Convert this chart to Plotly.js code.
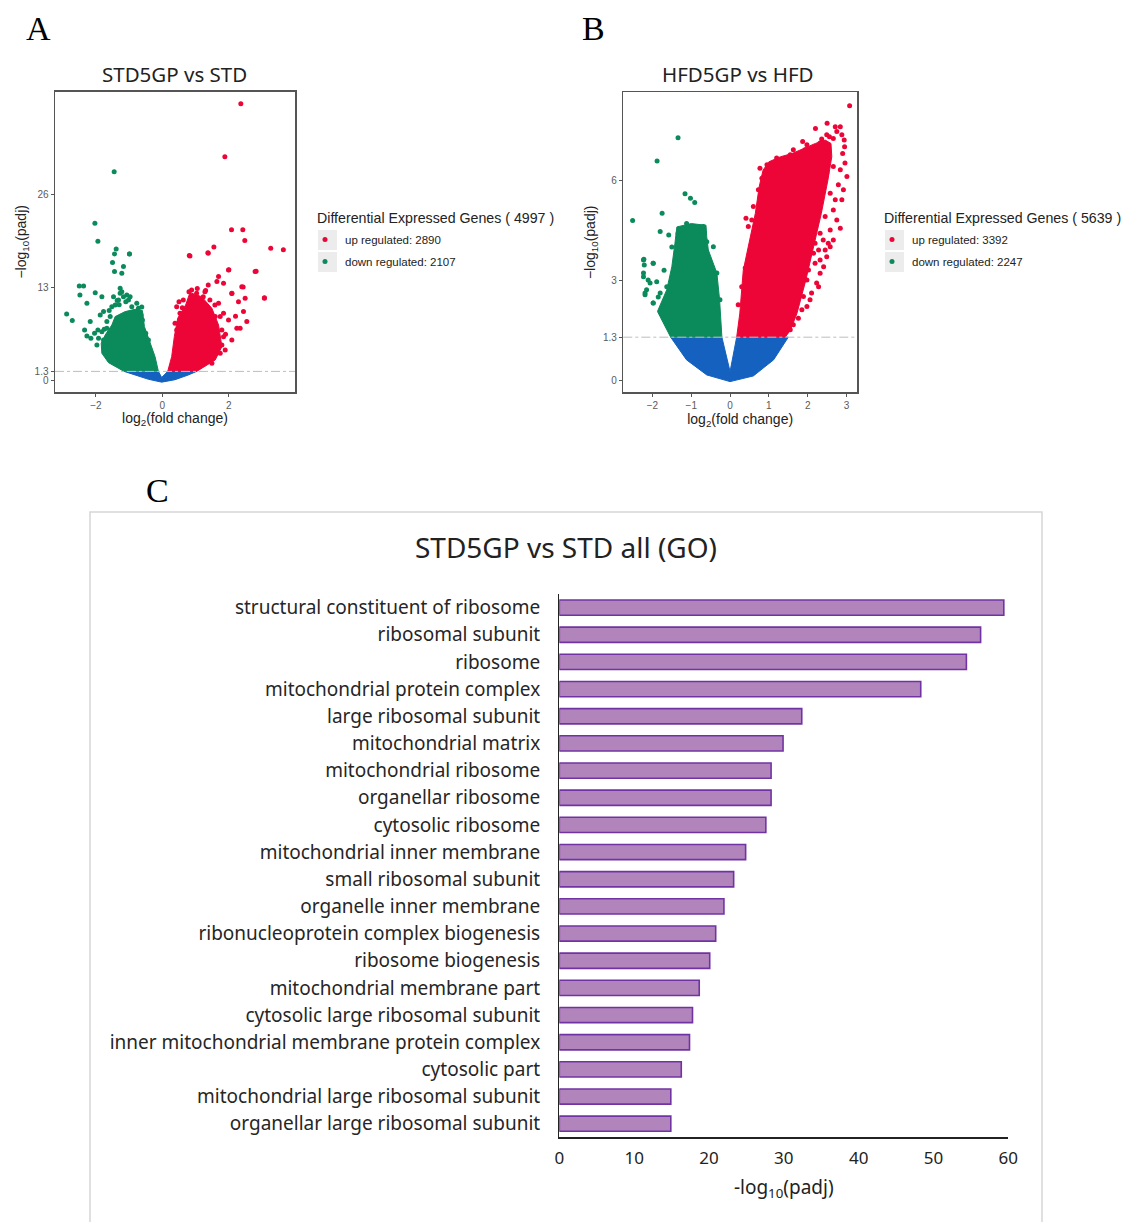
<!DOCTYPE html>
<html>
<head>
<meta charset="utf-8">
<script src="https://cdn.plot.ly/plotly-3.0.1.min.js"></script>
<style>html,body{margin:0;padding:0;background:#fff;}#chart{width:1128px;height:1222px;}</style>
</head>
<body>
<div id="chart"></div>
<script>
// ---------------- Panel A: STD5GP vs STD (volcano) ----------------
const THRESH = 1.3;
const aCounts = {up: 2890, down: 2107, total: 4997};
// dense clouds (outline of solid-colour regions)
const aBlueX = [-1.15,-0.82,-0.42,-0.02,0.38,0.78,1.03,0.16,-0.02,-0.12];
const aBlueY = [1.3,0.8,0.2,-0.2,0.14,0.8,1.3,1.3,0.45,1.3];
const aGreenX = [-1.15,-1.62,-1.82,-1.84,-1.72,-1.52,-1.42,-1.12,-0.82,-0.60,-0.54,-0.37,-0.22,-0.12];
const aGreenY = [1.3,2.52,3.83,5.23,6.39,7.79,8.96,9.66,9.98,9.80,7.56,5.23,3.36,1.3];
const aRedX = [0.16,0.28,0.36,0.46,0.70,0.83,1.18,1.49,1.69,1.79,1.59,1.03];
const aRedY = [1.3,3.36,6.16,8.72,10.59,12.31,11.75,10.12,7.79,4.76,2.9,1.3];
// individual genes
const aDownX = [-2.88,-2.71,-2.50,-2.37,-2.48,-2.27,-2.17,-2.34,-2.27,-2.15,-1.94,-2.02,-1.82,-1.87,-1.77,-1.67,-1.52,-1.47,-1.27,-1.22,-1.07,-0.97,-1.44,-1.50,-1.44,-1.22,-1.17,-0.99,-1.10,-0.77,-1.45,-2.03,-1.94,-1.39,-0.99,-1.30,-1.36,-0.62,-1.60,-1.75,
  -1.72,-1.77,-1.92,-1.82,-1.67,-1.57,-1.42,-1.32,-1.27,-1.17,-1.02,-0.92,-0.72,-0.64,-0.60,-0.50,-0.42,-1.97,-2.04];
const aDownY = [9.33,8.40,13.25,13.25,11.99,10.82,8.26,7.09,6.25,5.93,7.09,12.31,11.75,9.19,9.66,8.26,10.35,11.75,12.92,12.45,11.99,11.75,17.72,16.51,15.25,15.02,15.95,17.72,11.05,10.82,29.2,22.0,19.5,18.4,17.7,10.6,11.2,10.3,9.8,7.2,
  4.76,5.69,5.93,6.86,7.32,8.96,10.59,11.29,12.22,11.75,11.29,10.35,10.12,9.19,8.49,6.62,5.69,5.0,6.62];
const aUpX = [0.50,0.83,1.38,0.80,0.98,1.23,1.38,1.64,1.69,1.84,1.99,2.09,2.29,2.39,2.49,2.44,2.54,2.24,2.34,2.09,1.79,1.99,2.79,3.07,1.69,1.84,1.59,2.36,1.88,2.08,2.42,2.48,3.26,3.64,1.55,1.37,0.81,2.00,2.82,2.43,2.09,3.07,1.05,1.30,1.90,2.20,0.60,
  0.43,0.53,0.63,0.88,1.03,1.28,1.43,1.58,1.74,1.79,1.84,1.89,1.74,1.49,0.38,0.43];
const aUpY = [11.05,17.44,17.81,12.45,10.59,11.75,13.39,13.85,14.55,13.62,15.48,12.22,11.05,13.15,11.52,9.66,8.26,7.32,7.32,5.69,4.99,8.49,15.25,11.52,10.82,9.42,8.96,38.7,31.3,21.1,21.1,19.6,18.5,18.3,18.7,17.9,17.5,15.5,15.3,13.1,12.2,11.6,12.9,12.6,6.5,9.0,10.2,
  10.35,9.42,11.29,12.69,12.22,12.45,11.29,10.59,8.96,7.09,6.16,4.29,3.83,2.43,8.02,7.09];

// ---------------- Panel B: HFD5GP vs HFD (volcano) ----------------
const bCounts = {up: 3392, down: 2247, total: 5639};
const bBlueX = [-1.53,-1.12,-0.60,0.00,0.60,1.12,1.50,0.17,0.00,-0.21];
const bBlueY = [1.3,0.62,0.17,-0.03,0.14,0.62,1.3,1.3,0.27,1.3];
const bGreenX = [-1.53,-1.72,-1.87,-1.63,-1.50,-1.42,-1.37,-1.00,-0.62,-0.60,-0.56,-0.34,-0.27,-0.21];
const bGreenY = [1.3,1.72,2.07,2.72,3.41,4.11,4.60,4.70,4.65,4.30,3.91,3.22,2.42,1.3];
const bRedX = [0.17,0.25,0.34,0.50,0.65,0.75,0.85,1.00,1.30,1.60,1.90,2.20,2.45,2.60,2.62,2.52,2.35,2.15,1.95,1.72,1.55,1.42];
const bRedY = [1.3,2.0,3.3,4.2,5.0,5.8,6.3,6.55,6.7,6.8,6.95,7.1,7.2,7.1,6.7,6.0,5.0,4.0,3.0,2.0,1.5,1.3];
const bDownX = [-1.34,-1.88,-2.51,-1.16,-1.02,-0.91,-1.75,-1.80,-1.58,-2.23,-2.21,-1.98,-2.23,-2.11,-2.15,-1.89,-2.19,-1.80,-1.98,-1.71,-1.63,-0.60,-0.43,-0.34,-0.26,-1.50,-1.34,-0.69,-1.12,-2.22,-2.23,-2.19,-1.98,-2.06,-1.98,-1.85,-1.70];
const bDownY = [7.27,6.57,4.79,5.59,5.46,5.33,5.01,4.46,4.36,3.61,3.46,3.51,3.22,3.01,2.72,2.96,2.57,2.62,2.32,2.22,2.81,4.16,4.01,3.22,2.42,4.00,4.40,4.61,4.70,3.63,3.11,2.62,3.51,2.92,2.32,2.50,3.30];
const bUpX = [3.08,2.71,2.84,2.56,2.66,2.94,1.87,2.36,2.15,1.93,1.55,1.72,2.06,1.39,2.96,3.01,2.84,0.77,0.86,1.07,2.79,2.71,0.41,0.47,2.58,2.40,2.84,2.66,2.53,2.32,2.28,2.06,1.98,1.72,1.63,1.80,1.50,1.37,1.46,0.39,0.21,0.30,2.15,1.93,2.45,1.63,2.90,2.95,2.20,2.50,
  1.55,1.63,1.76,1.85,1.98,2.10,2.23,2.32,2.41,2.49,2.58,1.89,1.80,2.02,2.19,2.28,1.59,1.67,
  2.66,2.75,2.88,2.92,2.58,2.45,2.32,2.19,2.49,2.66,2.36,2.23,1.20,0.95,0.82,0.73,0.60,0.56,1.63,1.98,2.32,2.49,2.75,2.88];
const bUpY = [8.23,7.60,7.60,7.30,7.25,7.20,7.16,7.23,6.96,6.91,6.76,6.76,6.71,6.63,6.51,6.11,6.31,6.36,5.96,6.11,5.86,5.41,4.86,4.61,4.51,4.21,4.56,5.11,4.11,3.61,2.81,2.42,3.01,2.72,3.22,3.41,2.22,1.62,1.57,3.37,2.27,2.81,3.81,3.61,3.91,2.02,6.80,7.00,7.55,7.70,
  1.52,1.67,1.87,2.12,2.22,2.62,2.92,3.21,3.41,3.71,4.01,2.52,3.02,3.31,3.51,3.91,2.92,3.61,
  4.21,4.81,5.41,5.71,5.61,4.91,4.41,4.11,6.21,6.41,6.51,6.81,6.66,6.46,6.06,5.71,5.21,4.81,6.91,7.06,7.11,7.36,7.46,7.36];

// ---------------- Panel C: GO enrichment ----------------
const goTerms = ["structural constituent of ribosome","ribosomal subunit","ribosome","mitochondrial protein complex","large ribosomal subunit","mitochondrial matrix","mitochondrial ribosome","organellar ribosome","cytosolic ribosome","mitochondrial inner membrane","small ribosomal subunit","organelle inner membrane","ribonucleoprotein complex biogenesis","ribosome biogenesis","mitochondrial membrane part","cytosolic large ribosomal subunit","inner mitochondrial membrane protein complex","cytosolic part","mitochondrial large ribosomal subunit","organellar large ribosomal subunit"];
const goScore = [59.4,56.3,54.4,48.3,32.4,29.9,28.3,28.3,27.6,24.9,23.3,22.0,20.9,20.1,18.7,17.8,17.4,16.3,14.9,14.9];
const goTicks = [0,10,20,30,40,50,60];

// ---------------- styles ----------------
const RED = '#EE0537', GREEN = '#0B8A5B', BLUE = '#1461C0';
const W = 1128, H = 1222;
const px = v => v / W, py = v => 1 - v / H;

function poly(x, y, color, xa, ya) {
  return {type:'scatter', mode:'lines', x:x, y:y, fill:'toself', fillcolor:color,
    line:{color:color, width:1}, xaxis:xa, yaxis:ya, showlegend:false, hoverinfo:'skip'};
}
function pts(x, y, color, xa, ya, name, leg, grp) {
  return {type:'scatter', mode:'markers', x:x, y:y, name:name, legend:leg, legendgroup:grp,
    marker:{color:color, size:5}, xaxis:xa, yaxis:ya, hoverinfo:'skip'};
}

const traces = [
  poly(aBlueX, aBlueY, BLUE, 'x', 'y'),
  poly(aGreenX, aGreenY, GREEN, 'x', 'y'),
  poly(aRedX, aRedY, RED, 'x', 'y'),
  pts(aUpX, aUpY, RED, 'x', 'y', 'up regulated: ' + aCounts.up, 'legend', 'a1'),
  pts(aDownX, aDownY, GREEN, 'x', 'y', 'down regulated: ' + aCounts.down, 'legend', 'a2'),
  poly(bBlueX, bBlueY, BLUE, 'x2', 'y2'),
  poly(bGreenX, bGreenY, GREEN, 'x2', 'y2'),
  poly(bRedX, bRedY, RED, 'x2', 'y2'),
  pts(bUpX, bUpY, RED, 'x2', 'y2', 'up regulated: ' + bCounts.up, 'legend2', 'b1'),
  pts(bDownX, bDownY, GREEN, 'x2', 'y2', 'down regulated: ' + bCounts.down, 'legend2', 'b2'),
  {type:'bar', orientation:'h', x:goScore, y:goTerms, xaxis:'x3', yaxis:'y3', width:0.56,
   marker:{color:'#B184BC', line:{color:'#7133A3', width:1.6}}, showlegend:false, hoverinfo:'skip'}
];

const tickFont = {family:'Liberation Sans, Arial, sans-serif', size:10, color:'#5a5a5a'};
const axTitleFont = {family:'Liberation Sans, Arial, sans-serif', size:14, color:'#222'};
function volX(domain, range, tv, anchor) {
  return {domain:domain, range:range, tickvals:tv, anchor:anchor, showline:true, mirror:true,
    linecolor:'#555', linewidth:1.5, ticks:'outside', ticklen:3, tickcolor:'#555',
    showgrid:false, zeroline:false, tickfont:tickFont,
    title:{text:'log<sub>2</sub>(fold change)', font:axTitleFont, standoff:2}};
}
function volY(domain, range, tv, anchor) {
  return {domain:domain, range:range, tickvals:tv, ticktext:tv.map(String), anchor:anchor,
    showline:true, mirror:true, linecolor:'#555', linewidth:1.5, ticks:'outside', ticklen:3,
    tickcolor:'#555', showgrid:false, zeroline:false, tickfont:tickFont,
    title:{text:'\u2212log<sub>10</sub>(padj)', font:axTitleFont, standoff:4}};
}

const legFont = {family:'Liberation Sans, Arial, sans-serif', size:11.5, color:'#222'};
const layout = {
  width:W, height:H, margin:{l:0, r:0, t:0, b:0}, paper_bgcolor:'#fff', plot_bgcolor:'#fff',
  hovermode:false,
  title:{text:'STD5GP vs STD all (GO)', x:px(566), y:py(548), xref:'paper', yref:'paper',
    xanchor:'center', yanchor:'middle', font:{family:'Noto Sans, sans-serif', size:28, color:'#222'}},
  xaxis: volX([px(55), px(295)], [-3.23, 3.99], [-2,0,2], 'y'),
  yaxis: volY([py(392), py(91.7)], [-1.58, 40.4], [0, THRESH, 13, 26], 'x'),
  xaxis2: volX([px(623.3), px(857)], [-2.75, 3.27], [-2,-1,0,1,2,3], 'y2'),
  yaxis2: volY([py(392.3), py(92.3)], [-0.35, 8.63], [0, THRESH, 3, 6], 'x2'),
  xaxis3: {domain:[px(559.3), px(1008.3)], range:[0, 60], tickvals:goTicks, anchor:'y3',
    showline:true, linecolor:'#222', linewidth:1.3, ticks:'', showgrid:false, zeroline:false,
    ticklabelstandoff:5, tickfont:{family:'Noto Sans, sans-serif', size:17, color:'#222'},
    title:{text:'-log<sub>10</sub>(padj)', font:{family:'Noto Sans, sans-serif', size:19, color:'#222'}, standoff:12}},
  yaxis3: {domain:[py(1137.3), py(594)], type:'category', range:[19.5, -0.5], anchor:'x3',
    showline:true, linecolor:'#222', linewidth:1.3, ticks:'', showgrid:false, zeroline:false,
    ticklabelstandoff:14, tickfont:{family:'Noto Sans, sans-serif', size:19, color:'#262626'}},
  legend: {x:px(305), y:py(225), xanchor:'left', yanchor:'top', bgcolor:'rgba(0,0,0,0)',
    font:legFont, traceorder:'grouped', tracegroupgap:3, itemwidth:30},
  legend2: {x:px(872), y:py(225), xanchor:'left', yanchor:'top', bgcolor:'rgba(0,0,0,0)',
    font:legFont, traceorder:'grouped', tracegroupgap:3, itemwidth:30},
  shapes: [
    {type:'line', xref:'x domain', yref:'y', x0:0, x1:1, y0:THRESH, y1:THRESH, line:{color:'#bdbdbd', width:1, dash:'dashdot'}, layer:'above'},
    {type:'line', xref:'x2 domain', yref:'y2', x0:0, x1:1, y0:THRESH, y1:THRESH, line:{color:'#bdbdbd', width:1, dash:'dashdot'}, layer:'above'},
    // legend key backgrounds
    {type:'rect', xref:'paper', yref:'paper', x0:px(318), x1:px(337), y0:py(250), y1:py(230), fillcolor:'#ececec', line:{width:0}, layer:'below'},
    {type:'rect', xref:'paper', yref:'paper', x0:px(318), x1:px(337), y0:py(272), y1:py(252), fillcolor:'#ececec', line:{width:0}, layer:'below'},
    {type:'rect', xref:'paper', yref:'paper', x0:px(885), x1:px(904), y0:py(250), y1:py(230), fillcolor:'#ececec', line:{width:0}, layer:'below'},
    {type:'rect', xref:'paper', yref:'paper', x0:px(885), x1:px(904), y0:py(272), y1:py(252), fillcolor:'#ececec', line:{width:0}, layer:'below'},
    // panel C frame
    {type:'rect', xref:'paper', yref:'paper', x0:px(90), x1:px(1042), y0:py(1230), y1:py(512), line:{color:'#d6d6d6', width:1.5}, layer:'below'}
  ],
  annotations: [
    {text:'A', x:px(38), y:py(28), xref:'paper', yref:'paper', showarrow:false, xanchor:'center', yanchor:'middle', font:{family:'Liberation Serif, Times New Roman, serif', size:34, color:'#000'}},
    {text:'B', x:px(593), y:py(28), xref:'paper', yref:'paper', showarrow:false, xanchor:'center', yanchor:'middle', font:{family:'Liberation Serif, Times New Roman, serif', size:34, color:'#000'}},
    {text:'C', x:px(157), y:py(490), xref:'paper', yref:'paper', showarrow:false, xanchor:'center', yanchor:'middle', font:{family:'Liberation Serif, Times New Roman, serif', size:34, color:'#000'}},
    {text:'STD5GP vs STD', x:px(174), y:py(74), xref:'paper', yref:'paper', showarrow:false, xanchor:'center', yanchor:'middle', font:{family:'Noto Sans, sans-serif', size:20.5, color:'#222'}},
    {text:'HFD5GP vs HFD', x:px(738), y:py(74), xref:'paper', yref:'paper', showarrow:false, xanchor:'center', yanchor:'middle', font:{family:'Noto Sans, sans-serif', size:20.5, color:'#222'}},
    {text:'Differential Expressed Genes ( ' + aCounts.total + ' )', x:px(315), y:py(218), xref:'paper', yref:'paper', showarrow:false, xanchor:'left', yanchor:'middle', font:{family:'Liberation Sans, Arial, sans-serif', size:14.2, color:'#222'}},
    {text:'Differential Expressed Genes ( ' + bCounts.total + ' )', x:px(882), y:py(218), xref:'paper', yref:'paper', showarrow:false, xanchor:'left', yanchor:'middle', font:{family:'Liberation Sans, Arial, sans-serif', size:14.2, color:'#222'}}
  ]
};

Plotly.newPlot('chart', traces, layout, {staticPlot:true, displayModeBar:false});
</script>
</body>
</html>
